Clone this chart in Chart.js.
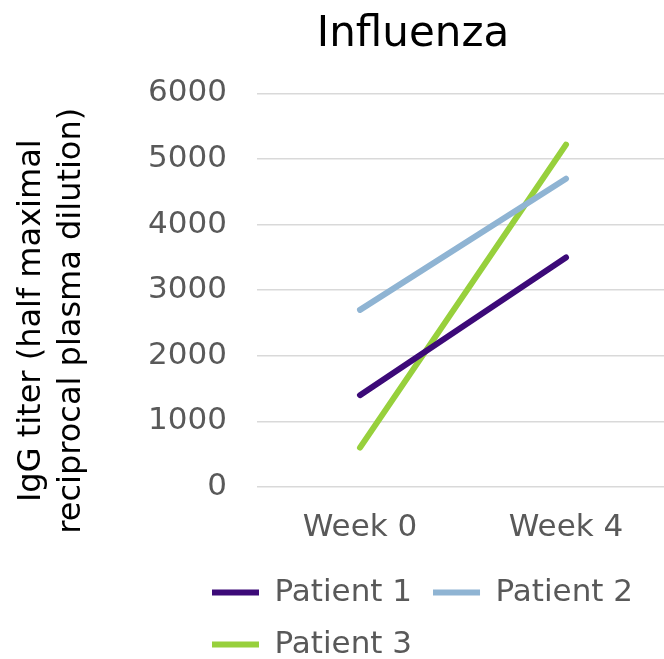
<!DOCTYPE html>
<html>
<head>
<meta charset="utf-8">
<script src="https://cdn.jsdelivr.net/npm/chart.js@4.4.1/dist/chart.umd.min.js"></script>
<style>
html,body{margin:0;padding:0;background:#fff;}
#wrap{width:664px;height:659px;position:relative;}
</style>
</head>
<body>
<div id="wrap"><canvas id="c" width="664" height="659"></canvas></div>
<script>
const categories = ['Week 0', 'Week 4'];
const patient1 = [1400, 3500];
const patient2 = [2700, 4700];
const patient3 = [600, 5220];
const seriesNames = ['Patient 1', 'Patient 2', 'Patient 3'];
const seriesColors = ['#3c0a78', '#8fb4d3', '#97d03c'];
const yTicks = [0, 1000, 2000, 3000, 4000, 5000, 6000];
const chartTitle = 'Influenza';
const yTitle = ['IgG titer (half maximal      ', 'reciprocal plasma dilution)      '];

const FONT = "'DejaVu Sans', Verdana, sans-serif";
const LEGEND_W = 520;
const PLOT_RIGHT = 669;

const layoutFix = {
  id: 'layoutFix',
  beforeLayout(chart) {
    const lg = chart.legend;
    if (lg && !lg._patched) {
      const orig = lg.update.bind(lg);
      lg.update = (w, h, m) => orig(Math.min(w, LEGEND_W), h, m);
      lg._patched = true;
    }
  },
  afterLayout(chart) {
    const lg = chart.legend;
    if (lg) {
      const h = lg.height;
      lg.left = 191; lg.right = 191 + LEGEND_W; lg.width = LEGEND_W;
      lg.top = 556; lg.bottom = 556 + h;
    }
    const t = chart.titleBlock;
    if (t) { t.left = 162; t.right = 664; t.width = 502; }
    const xs = chart.scales.x;
    if (xs) {
      xs.right = PLOT_RIGHT;
      xs.width = PLOT_RIGHT - xs.left;
      xs.configure();
      chart.chartArea.right = PLOT_RIGHT;
      chart.chartArea.width = PLOT_RIGHT - chart.chartArea.left;
    }
  }
};

const datasets = [patient1, patient2, patient3].map((d, i) => ({
  label: seriesNames[i],
  data: d,
  borderColor: seriesColors[i],
  backgroundColor: seriesColors[i],
  borderWidth: 6,
  borderCapStyle: 'round',
  borderJoinStyle: 'round',
  pointRadius: 0,
  pointHoverRadius: 0,
  pointStyle: 'line',
  tension: 0,
  fill: false
}));

new Chart(document.getElementById('c'), {
  type: 'line',
  data: { labels: categories, datasets },
  plugins: [layoutFix],
  options: {
    responsive: false,
    animation: false,
    devicePixelRatio: 1,
    plugins: {
      tooltip: { enabled: false },
      title: {
        display: true,
        text: chartTitle,
        color: '#000000',
        font: { family: FONT, size: 42, weight: 'normal', lineHeight: 1.2 },
        padding: { top: 10, bottom: 33 }
      },
      legend: {
        display: true,
        position: 'bottom',
        align: 'start',
        labels: {
          usePointStyle: true,
          pointStyle: 'line',
          pointStyleWidth: 47,
          color: '#595959',
          padding: 21,
          font: { family: FONT, size: 31 }
        }
      }
    },
    scales: {
      x: {
        type: 'category',
        offset: true,
        grid: { display: false, drawTicks: false },
        border: { display: false },
        ticks: { color: '#595959', font: { family: FONT, size: 31 }, padding: 22, maxRotation: 0 },
        afterFit: s => { s.height = 58; }
      },
      y: {
        min: 0,
        max: 6000,
        afterBuildTicks: s => { s.ticks = yTicks.map(v => ({ value: v })); },
        grid: { color: '#d9d9d9', lineWidth: 1.5, drawTicks: false },
        border: { display: false },
        ticks: {
          color: '#595959',
          font: { family: FONT, size: 31 },
          padding: 30,
          callback: v => String(v)
        },
        title: {
          display: true,
          text: yTitle,
          color: '#000000',
          font: { family: FONT, size: 32, lineHeight: 1.25 },
          padding: { top: 12, bottom: 0 }
        },
        afterFit: s => { s.width = 257; }
      }
    }
  }
});
</script>
</body>
</html>
